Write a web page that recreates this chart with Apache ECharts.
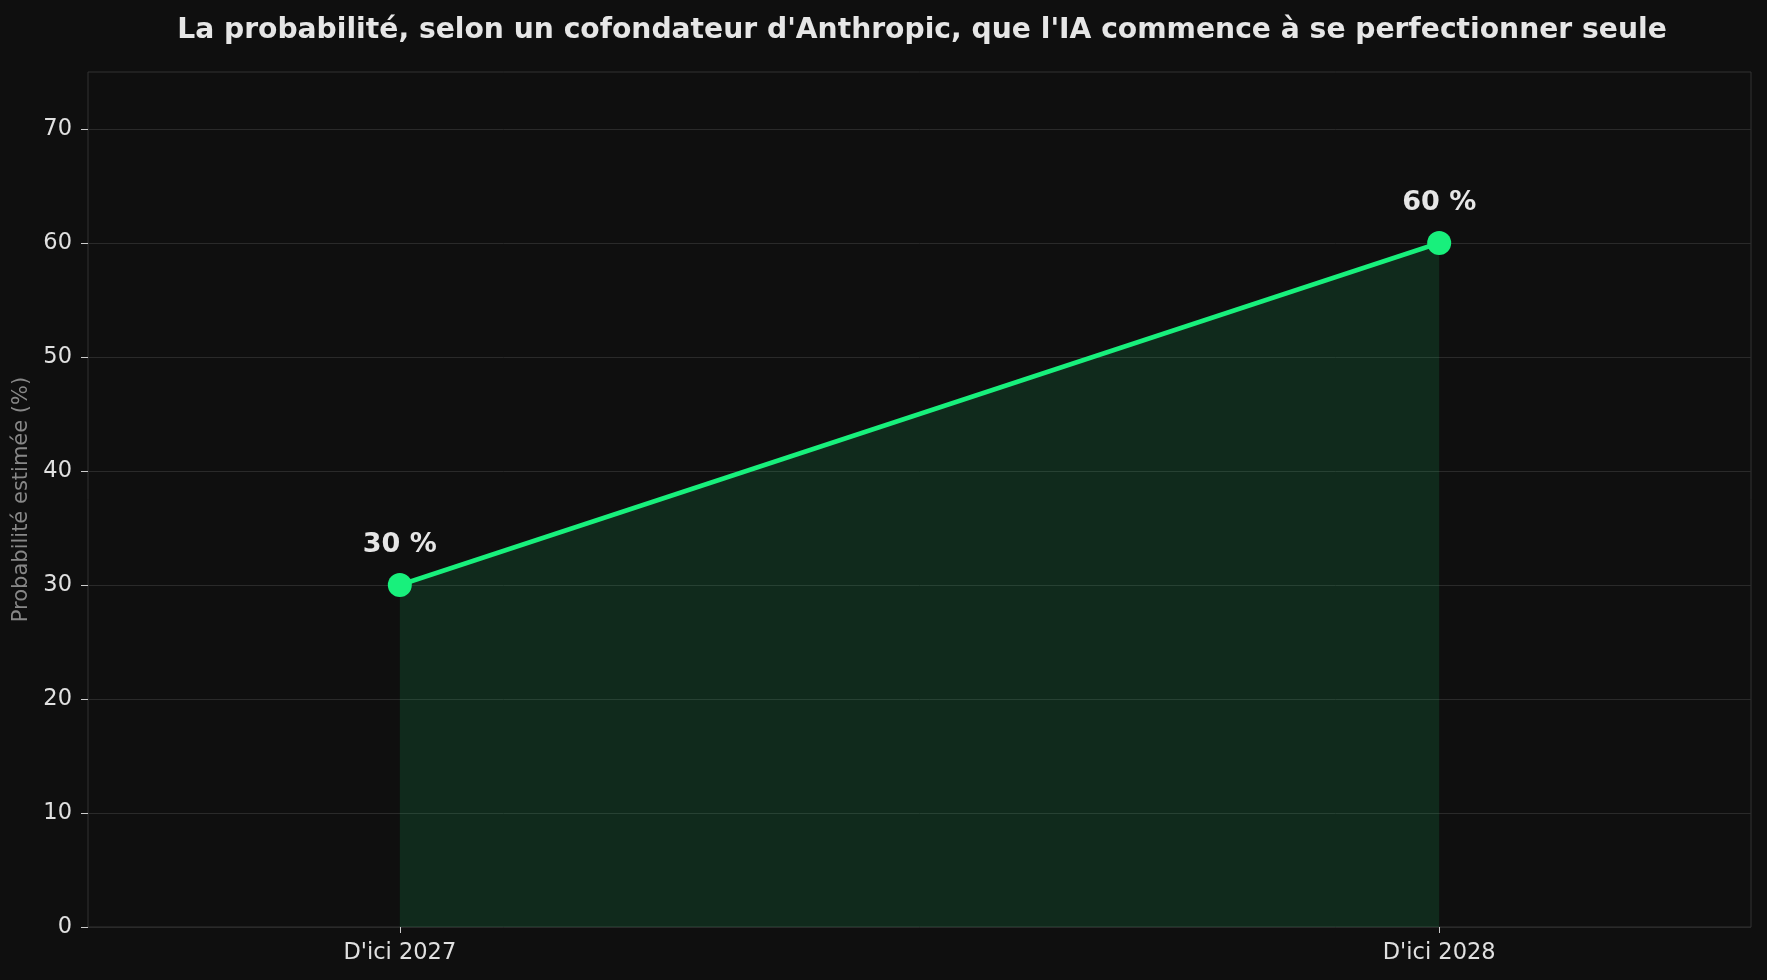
<!DOCTYPE html>
<html>
<head>
<meta charset="utf-8">
<script src="https://cdn.jsdelivr.net/npm/echarts@6/dist/echarts.min.js"></script>
<style>
html,body{margin:0;padding:0;background:#0f0f0f;}
#c{width:1767px;height:980px;}
</style>
</head>
<body>
<div id="c"></div>
<script>
const titleText = "La probabilité, selon un cofondateur d'Anthropic, que l'IA commence à se perfectionner seule";
const categories = ["D'ici 2027", "D'ici 2028"];
const values = [30, 60];
const yTicks = [0, 10, 20, 30, 40, 50, 60, 70];
const yAxisName = "Probabilité estimée (%)";

const catIdx = categories.map((c, i) => i);
const seriesData = values.map((v, i) => [i, v]);

const chart = echarts.init(document.getElementById('c'), null, {renderer: 'canvas'});
const green = '#18f07c';
chart.setOption({
  backgroundColor: '#0f0f0f',
  animation: false,
  title: {
    text: titleText,
    left: 917,
    textAlign: 'center',
    top: 12,
    textStyle: {fontFamily: 'DejaVu Sans', fontWeight: 'bold', fontSize: 28.2, color: '#e6e6e6'}
  },
  grid: {
    left: 88, right: 16, top: 72, bottom: 53,
    show: true, borderColor: '#333333', borderWidth: 1, backgroundColor: 'transparent'
  },
  xAxis: {
    type: 'value',
    min: -0.3, max: 1.3,
    axisLine: {show: false, onZero: false},
    splitLine: {show: false},
    axisTick: {show: true, customValues: catIdx, length: 6, lineStyle: {color: '#cccccc', width: 1}},
    axisLabel: {
      customValues: catIdx,
      formatter: v => categories[Math.round(v)] || '',
      margin: 15,
      fontFamily: 'DejaVu Sans', fontSize: 22.5, color: '#e0e0e0'
    }
  },
  yAxis: {
    type: 'value',
    min: 0, max: 75,
    name: yAxisName,
    nameLocation: 'middle',
    nameGap: 52,
    nameTextStyle: {fontFamily: 'DejaVu Sans', fontSize: 21, color: '#888888'},
    axisLine: {show: false, onZero: false},
    splitLine: {show: true, lineStyle: {color: '#2a2a2a', width: 1}},
    axisTick: {show: true, customValues: yTicks, length: 7, lineStyle: {color: '#cccccc', width: 1}},
    axisLabel: {
      customValues: yTicks,
      margin: 16,
      fontFamily: 'DejaVu Sans', fontSize: 22.5, color: '#e0e0e0'
    }
  },
  series: [{
    type: 'line',
    data: seriesData,
    symbol: 'circle',
    symbolSize: 24,
    lineStyle: {color: green, width: 4.5},
    itemStyle: {color: green},
    areaStyle: {color: green, opacity: 0.12},
    label: {
      show: true,
      position: 'top',
      distance: 15,
      formatter: p => p.value[1] + ' %',
      fontFamily: 'DejaVu Sans', fontWeight: 'bold', fontSize: 27, color: '#e6e6e6'
    }
  }]
});
</script>
</body>
</html>
